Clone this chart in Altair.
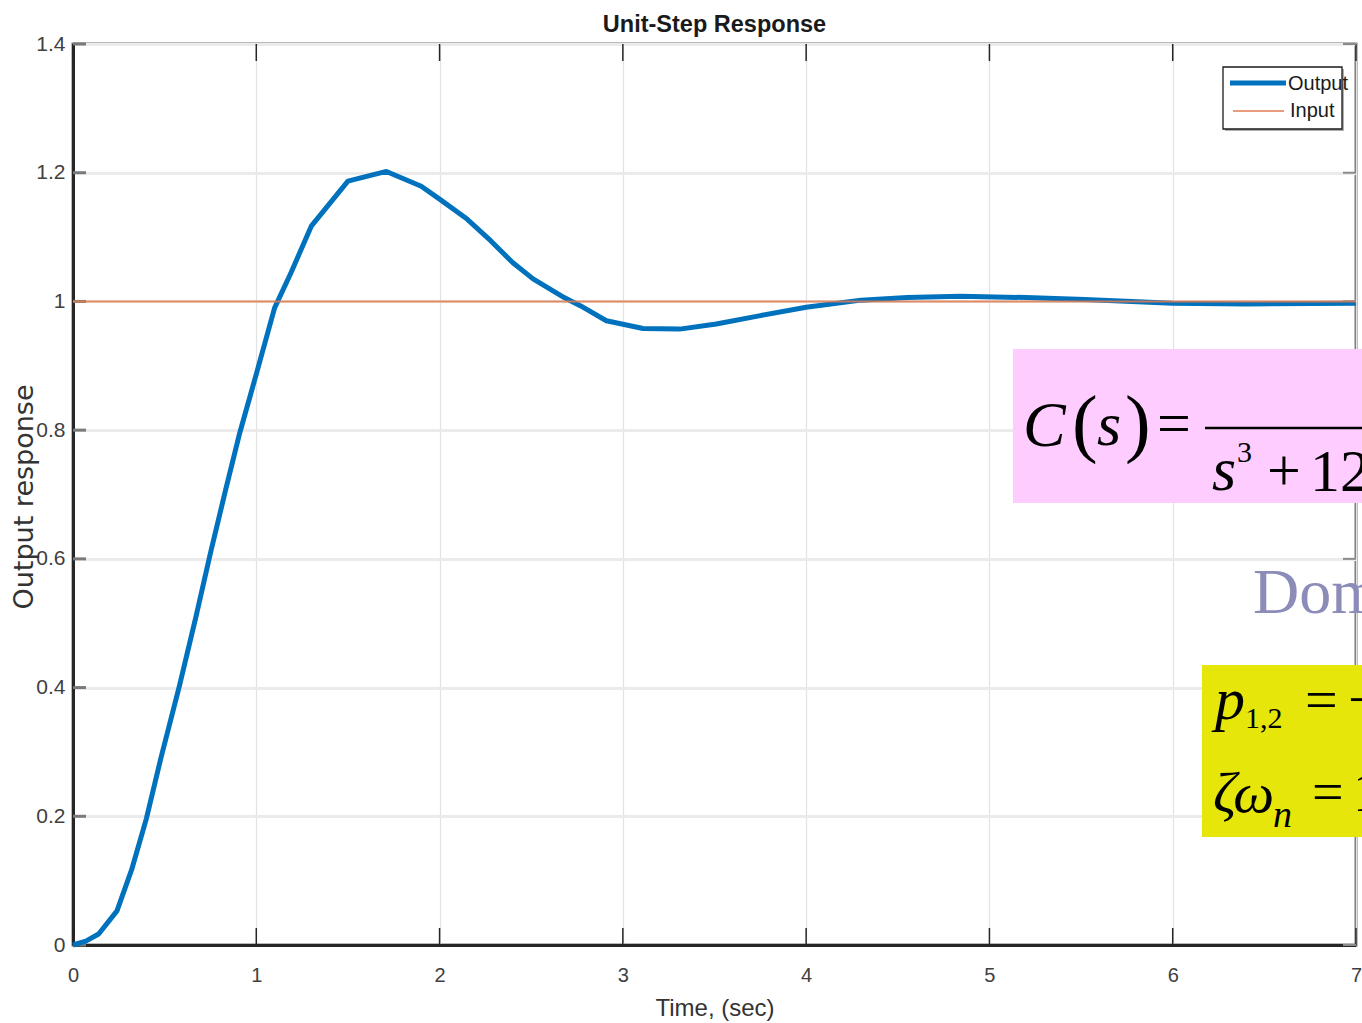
import altair as alt
import pandas as pd

# ---------------- data ----------------
time_s = [0, 0.07, 0.14, 0.24, 0.32, 0.40, 0.48, 0.58, 0.67, 0.75, 0.83, 0.91, 1.00,
          1.10, 1.19, 1.30, 1.50, 1.71, 1.90, 2.00, 2.15, 2.28, 2.40, 2.51, 2.68, 2.77,
          2.91, 3.11, 3.31, 3.51, 3.75, 4.00, 4.30, 4.55, 4.84, 5.20, 5.52, 6.00, 6.40, 7.00]
output_y = [0, 0.006, 0.017, 0.053, 0.117, 0.196, 0.291, 0.402, 0.509, 0.609, 0.704, 0.796,
            0.887, 0.990, 1.045, 1.117, 1.187, 1.202, 1.179, 1.159, 1.128, 1.094, 1.060,
            1.035, 1.006, 0.993, 0.970, 0.958, 0.957, 0.965, 0.978, 0.991, 1.002, 1.006,
            1.008, 1.006, 1.003, 0.997, 0.996, 0.997]
input_t = [0, 7]
input_y = [1, 1]

x_ticks = [0, 1, 2, 3, 4, 5, 6, 7]
y_ticks = [0, 0.2, 0.4, 0.6, 0.8, 1.0, 1.2, 1.4]

series_names = ["Output", "Input"]
series_colors = ["#0072BD", "#E07B4F"]

chart_title = "Unit-Step Response"
x_title = "Time, (sec)"
y_title = "Output response"

# ---------------- styling ----------------
W, H = 1283, 901
SANS = "Liberation Sans, Arial, sans-serif"
SERIF = "Liberation Serif, Times New Roman, serif"

out_df = pd.DataFrame({"t": time_s, "y": output_y})
in_df = pd.DataFrame({"t": input_t, "y": input_y})
xt_df = pd.DataFrame({"t": x_ticks})
yt_df = pd.DataFrame({"y": y_ticks})
one = pd.DataFrame({"k": [0]})

x_axis = alt.Axis(values=x_ticks, grid=True, gridColor="#E2E2E2", gridWidth=1.2,
                  domainColor="#262626", domainWidth=3, ticks=False, format="d",
                  labelFont=SANS, labelFontSize=20, labelColor="#404040",
                  labelPadding=20, labelFlush=False, labelOverlap=False,
                  title=x_title, titleFont=SANS, titleFontSize=24,
                  titleFontWeight="normal", titleColor="#333333",
                  titleX=W / 2, titleY=70, titleAlign="center",
                  titleBaseline="alphabetic")
y_axis = alt.Axis(values=y_ticks, grid=True, gridColor="#EBEBEB", gridWidth=3,
                  domainColor="#262626", domainWidth=3, ticks=False, format="~g",
                  labelFont=SANS, labelFontSize=21, labelColor="#404040",
                  labelPadding=8, labelFlush=False, labelOverlap=False,
                  title=y_title, titleFont="DejaVu Sans", titleFontSize=27,
                  titleFontWeight="normal", titleColor="#333333",
                  titleX=-41, titleY=H / 2 + 2, titleAngle=270, titleAlign="center",
                  titleBaseline="alphabetic")
x_scale = alt.Scale(domain=[0, 7], nice=False, zero=False)
y_scale = alt.Scale(domain=[0, 1.4], nice=False, zero=False)


def xe():
    return alt.X("t:Q", scale=x_scale, axis=x_axis)


def ye():
    return alt.Y("y:Q", scale=y_scale, axis=y_axis)


output_line = alt.Chart(out_df).mark_line(color=series_colors[0], strokeWidth=5,
                                          strokeJoin="round").encode(x=xe(), y=ye())
input_line = alt.Chart(in_df).mark_line(color=series_colors[1], strokeWidth=2,
                                        opacity=0.85).encode(x=xe(), y=ye())

# inward ticks (MATLAB style), positioned by the scales
tick_bottom = alt.Chart(xt_df).mark_rule(color="#262626", strokeWidth=1.5).encode(
    x=xe(), y=alt.value(H), y2=alt.value(H - 17))
tick_top = alt.Chart(xt_df).mark_rule(color="#262626", strokeWidth=1.5).encode(
    x=xe(), y=alt.value(0), y2=alt.value(17))
tick_left = alt.Chart(yt_df).mark_rule(color="#7A7A7A", strokeWidth=3).encode(
    y=ye(), x=alt.value(0), x2=alt.value(13))
tick_right = alt.Chart(yt_df).mark_rule(color="#8A8A8A", strokeWidth=2).encode(
    y=ye(), x=alt.value(W), x2=alt.value(W - 13))

# legend box (MATLAB style)
LX, LY = 1150, 23
legend_layers = [
    alt.Chart(one).mark_rect(color="#B0B0B0").encode(
        x=alt.value(LX + 2), x2=alt.value(LX + 121), y=alt.value(LY + 2), y2=alt.value(LY + 64)),
    alt.Chart(one).mark_rect(fill="white", stroke="#1A1A1A", strokeWidth=1.3).encode(
        x=alt.value(LX), x2=alt.value(LX + 119), y=alt.value(LY), y2=alt.value(LY + 62)),
    alt.Chart(one).mark_rule(color=series_colors[0], strokeWidth=5).encode(
        x=alt.value(LX + 7), x2=alt.value(LX + 63), y=alt.value(LY + 16)),
    alt.Chart(one).mark_rule(color=series_colors[1], strokeWidth=1.5).encode(
        x=alt.value(LX + 10), x2=alt.value(LX + 61), y=alt.value(LY + 44)),
    alt.Chart(one).mark_text(text=series_names[0], font=SANS, fontSize=20, align="left",
                             baseline="alphabetic", color="#1A1A1A").encode(
        x=alt.value(LX + 65), y=alt.value(LY + 23)),
    alt.Chart(one).mark_text(text=series_names[1], font=SANS, fontSize=20, align="left",
                             baseline="alphabetic", color="#1A1A1A").encode(
        x=alt.value(LX + 67), y=alt.value(LY + 50)),
]

# overlaid slide annotations (boxes + equation fragments)
boxes = [
    ("#FFCCFF", 940, 1300, 305, 459),
    ("#E6E60A", 1129, 1300, 621, 793),
]
box_layers = [
    alt.Chart(one).mark_rect(color=c).encode(
        x=alt.value(x1), x2=alt.value(x2), y=alt.value(y1), y2=alt.value(y2))
    for c, x1, x2, y1, y2 in boxes
]
# (text, x, baseline y, size, style, color)
pieces = [
    ("C", 950, 402, 64, "italic", "black"),
    ("(", 999, 404, 77, "normal", "black"),
    ("s", 1024, 401, 62, "italic", "black"),
    (")", 1052, 404, 77, "normal", "black"),
    ("=", 1084, 399, 60, "normal", "black"),
    ("s", 1139, 446, 62, "italic", "black"),
    ("3", 1164, 418, 30, "normal", "black"),
    ("+", 1194, 446, 60, "normal", "black"),
    ("12", 1237, 447, 60, "normal", "black"),
    ("Dom", 1180, 569, 64, "normal", "#8C8CB8"),
    ("p", 1142, 675, 60, "italic", "black"),
    ("1,2", 1172, 684, 30, "normal", "black"),
    ("=", 1232, 675, 58, "normal", "black"),
    ("\u2212", 1275, 675, 58, "normal", "black"),
    ("\u03b6\u03c9", 1140, 768, 58, "italic", "black"),
    ("n", 1200, 783, 38, "italic", "black"),
    ("=", 1239, 767, 56, "normal", "black"),
    ("1", 1280, 767, 56, "normal", "black"),
]
text_layers = [
    alt.Chart(one).mark_text(text=t, font=SERIF, fontSize=s, fontStyle=st, align="left",
                             baseline="alphabetic", color=c).encode(
        x=alt.value(x), y=alt.value(y))
    for t, x, y, s, st, c in pieces
]
frac_bar = alt.Chart(one).mark_rule(color="black", strokeWidth=2.5).encode(
    x=alt.value(1132), x2=alt.value(1300), y=alt.value(384))

chart = alt.layer(
    tick_bottom, tick_top, tick_left, tick_right, output_line, input_line,
    *legend_layers, *box_layers, frac_bar, *text_layers
).properties(
    width=W, height=H,
    title=alt.TitleParams(chart_title, font=SANS, fontSize=23.5, fontWeight="bold",
                          color="#1A1A1A", anchor="middle", frame="group", offset=0,
                          dy=22, baseline="alphabetic"),
    autosize=alt.AutoSizeParams(type="none"),
    padding={"left": 73, "top": 44, "right": 6, "bottom": 78},
    background="white",
).configure_view(stroke="#777777", strokeWidth=3)

chart.save("out.html", embed_options={"renderer": "svg", "actions": False})
